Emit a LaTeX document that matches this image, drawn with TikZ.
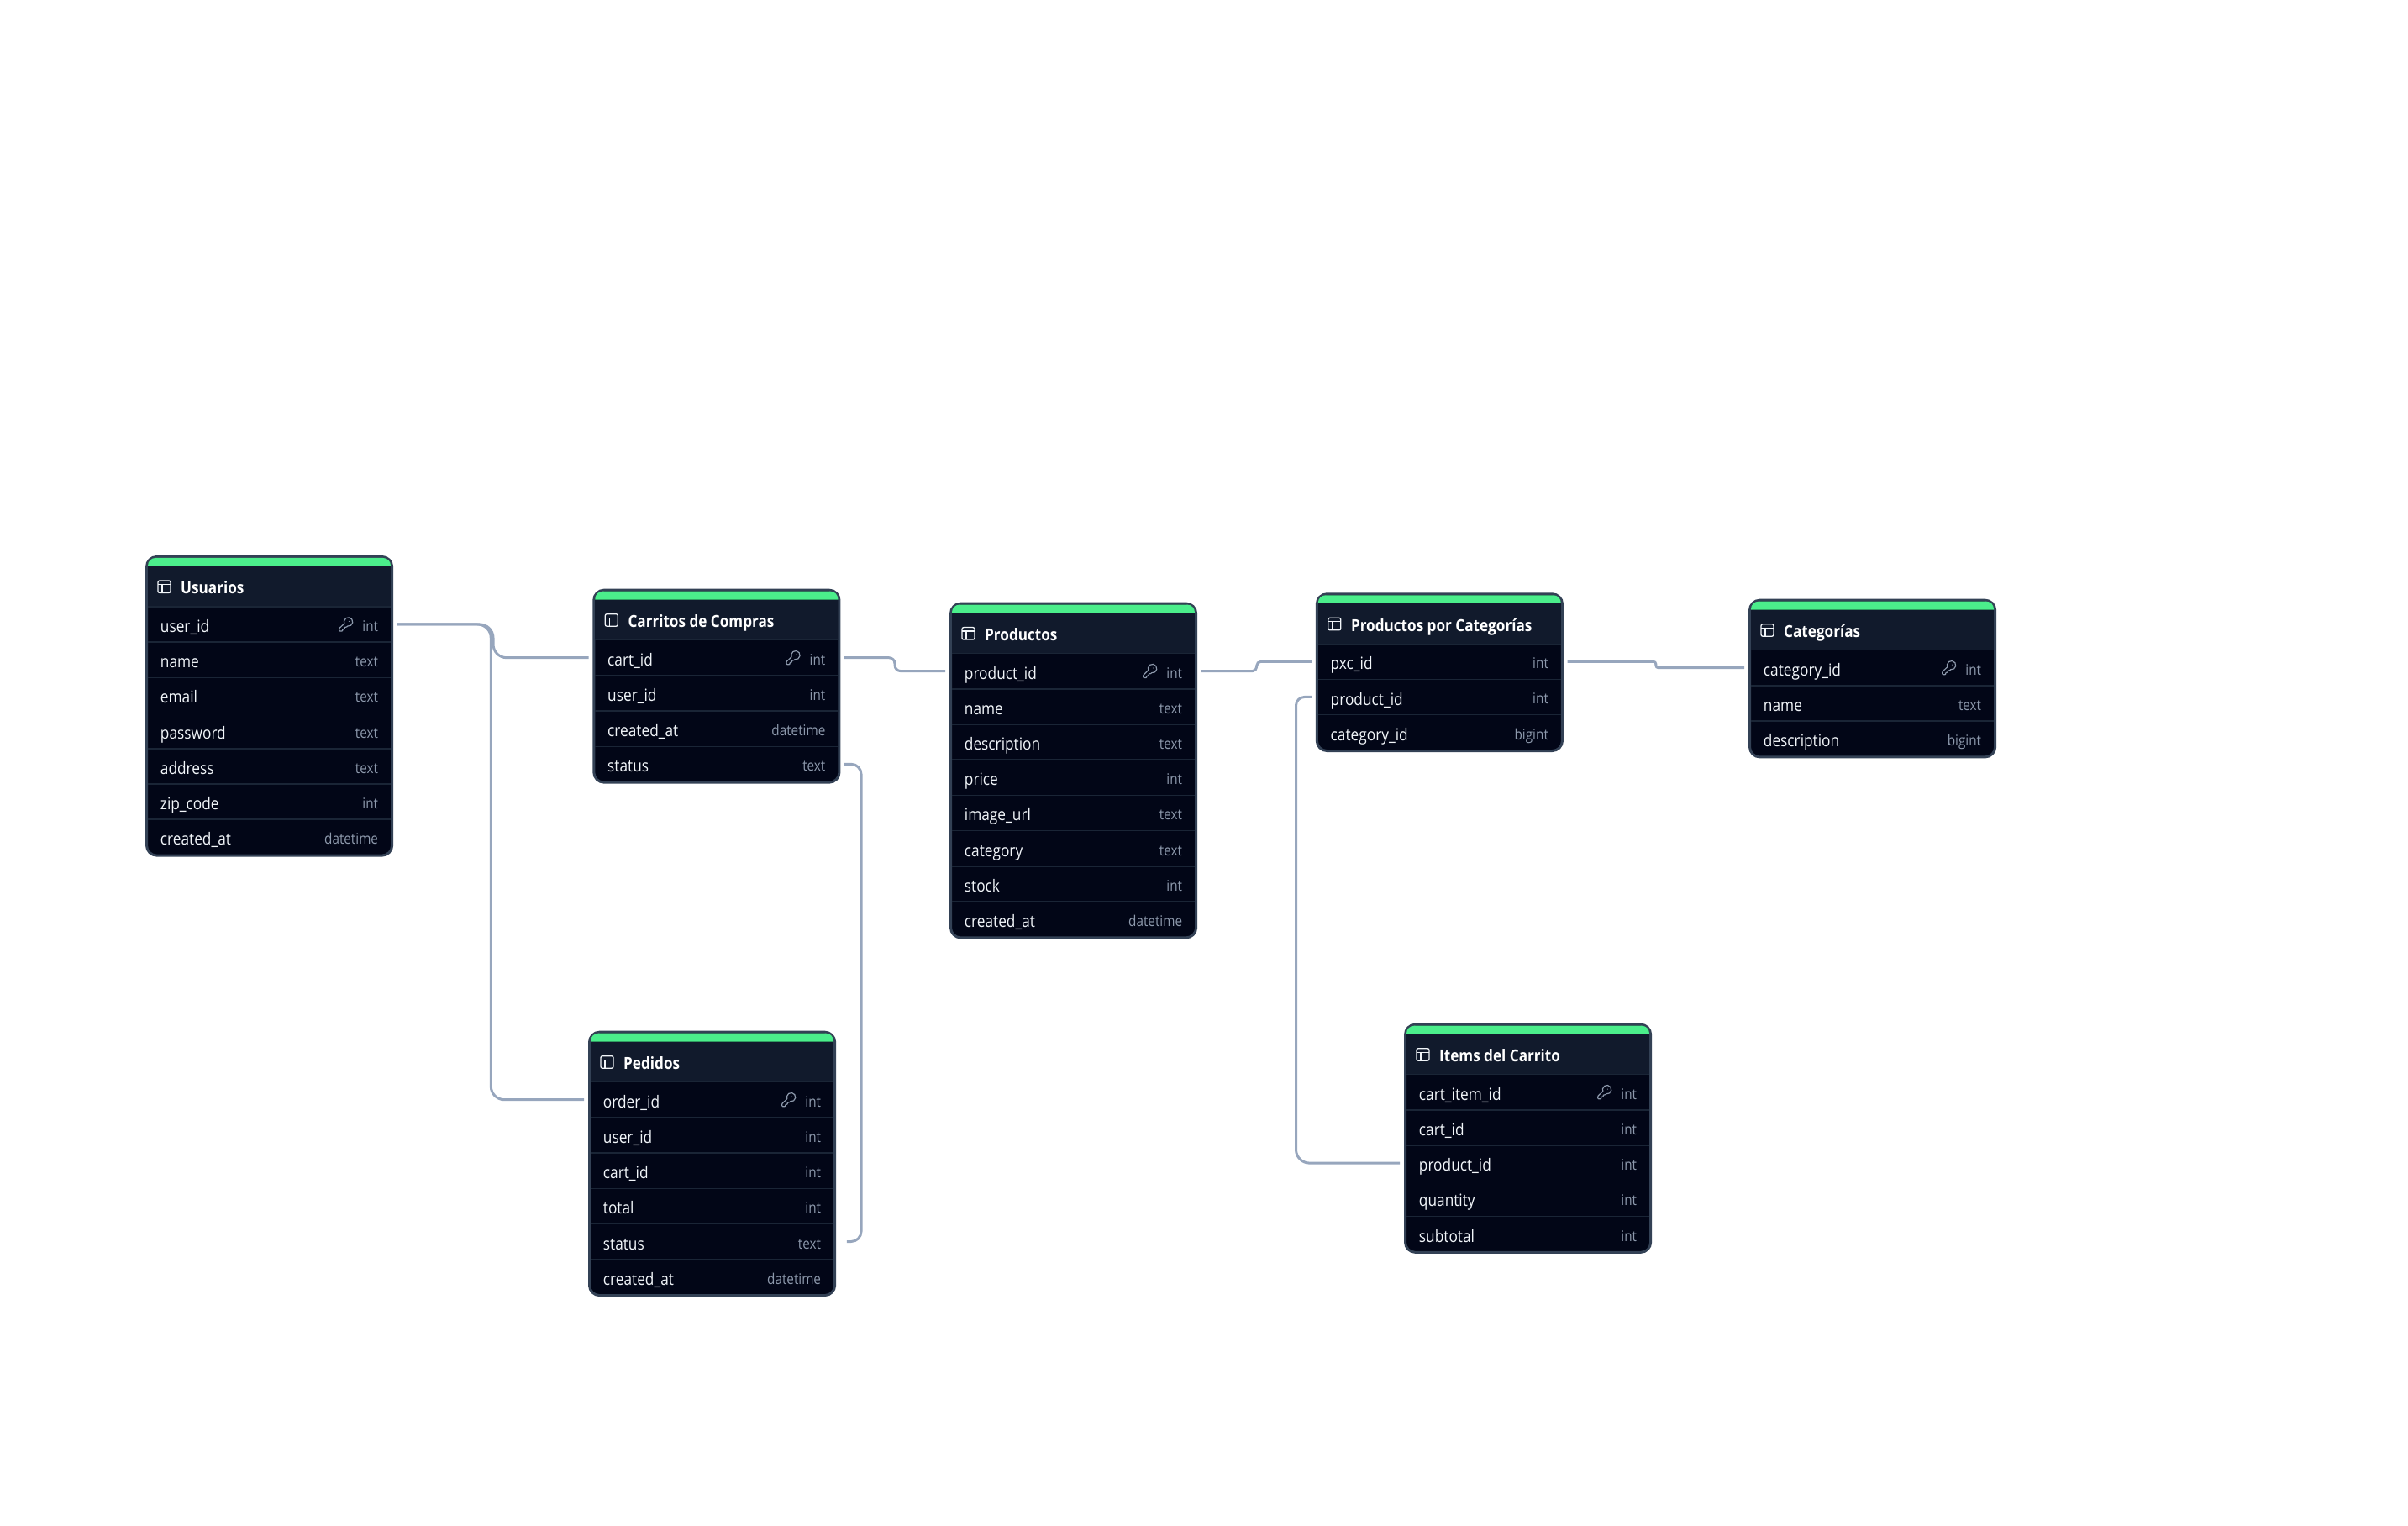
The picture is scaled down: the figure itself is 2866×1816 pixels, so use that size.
\documentclass[tikz,border=0pt]{standalone}
\usepackage{fontspec}
\setmainfont[FakeStretch=0.87]{Open Sans}
\definecolor{barcol}{HTML}{4BEE8B}
\definecolor{headcol}{HTML}{111A2C}
\definecolor{rowcol}{HTML}{020617}
\definecolor{framecol}{HTML}{334155}
\definecolor{divcol}{HTML}{1A2536}
\definecolor{linkcol}{HTML}{97A6BD}
\definecolor{namecol}{HTML}{F1F5F9}
\definecolor{typecol}{HTML}{8D99AC}
\tikzset{
  tablebox/.style={draw=framecol,fill=rowcol,line width=0.03cm,rounded corners=0.12cm,anchor=north west,minimum width=2.92cm},
  tabletitle/.style={anchor=base west,inner sep=0pt,text=white,font=\fontsize{5.6}{7}\selectfont\bfseries},
  colrow/.style={minimum height=0.42cm,inner ysep=0pt,inner xsep=0.22cm,text width=2.59cm,align=left,text height=0.23cm,text depth=0.04cm,text=namecol,font=\fontsize{5.65}{7}\selectfont},
  coltype/.style={anchor=east,inner ysep=0pt,inner xsep=0.22cm,text height=0.21cm,text depth=0.04cm,text=typecol,font=\fontsize{5}{7}\selectfont},
  rowline/.style={draw=divcol,line width=0.015cm},
  link/.style={draw=linkcol,line width=0.03cm},
  tablehead/.pic={
    \fill[barcol] (3,13) [rounded corners=0.09cm] -- (3,3) -- (292,3) [sharp corners] -- (292,13) -- cycle;
    \fill[headcol] (3,13) rectangle (292,61);
    \draw[rowline] (3,61) -- (292,61);
    \draw[draw=namecol,line width=0.013cm,rounded corners=0.02cm] (15,30) rectangle (30,44.5);
    \draw[draw=namecol,line width=0.013cm] (15,34.5) -- (30,34.5) (20,34.5) -- (20,44.5);
  },
  keyicon/.pic={
    \draw[x=0.008cm,y=0.008cm,shift={(-12,12)},draw=typecol,line width=0.012cm,line join=round]
      (14.4,-14.6) arc (259.8:562.4:6.5) -- (2.6,-17.4) -- (2,-18.8) -- (2,-21) -- (3,-22) -- (6,-22) -- (7,-21) -- (7,-20)
      -- (8,-19) -- (9,-19) -- (10,-18) -- (10,-17) -- (11,-16) -- (12.2,-16) -- (13.6,-15.4) -- cycle;
    \fill[x=0.008cm,y=0.008cm,shift={(-12,12)},typecol] (16.5,-7.5) circle (0.7);
  }
}
\begin{document}
\begin{tikzpicture}[x=0.01cm,y=-0.01cm]
\useasboundingbox (0,0) rectangle (2866,1816);

% Usuarios
\begin{scope}[shift={(173,661)}]
\node[tablebox,minimum height=3.554cm] (usuarios) at (0,0) {};
\pic at (0,0) {tablehead};
\node[tabletitle] (usuariost) at (41.5,46) {Usuarios};
\draw[rowline] (3,103.2) -- (292,103.2);
\draw[rowline] (3,145.4) -- (292,145.4);
\draw[rowline] (3,187.6) -- (292,187.6);
\draw[rowline] (3,229.8) -- (292,229.8);
\draw[rowline] (3,272) -- (292,272);
\draw[rowline] (3,314.2) -- (292,314.2);
\node[colrow] (u1) at (147.5,82) {user\_id};
\node[colrow] (u2) at (147.5,124.2) {name};
\node[colrow] (u3) at (147.5,166.4) {email};
\node[colrow] (u4) at (147.5,208.6) {password};
\node[colrow] (u5) at (147.5,250.8) {address};
\node[colrow] (u6) at (147.5,293) {zip\_code};
\node[colrow] (u7) at (147.5,335.2) {created\_at};
\node[coltype] (u1t) at (u1.east) {int};
\node[coltype] (u2t) at (u2.east) {text};
\node[coltype] (u3t) at (u3.east) {text};
\node[coltype] (u4t) at (u4.east) {text};
\node[coltype] (u5t) at (u5.east) {text};
\node[coltype] (u6t) at (u6.east) {int};
\node[coltype] (u7t) at (u7.east) {datetime};
\pic at ([xshift=-0.61cm]u1.east) {keyicon};
\end{scope}

% Carritos de Compras
\begin{scope}[shift={(705.3,700.7)}]
\node[tablebox,minimum height=2.288cm] (carritos) at (0,0) {};
\pic at (0,0) {tablehead};
\node[tabletitle] (carritost) at (41.5,46) {Carritos de Compras};
\draw[rowline] (3,103.2) -- (292,103.2);
\draw[rowline] (3,145.4) -- (292,145.4);
\draw[rowline] (3,187.6) -- (292,187.6);
\node[colrow] (c1) at (147.5,82) {cart\_id};
\node[colrow] (c2) at (147.5,124.2) {user\_id};
\node[colrow] (c3) at (147.5,166.4) {created\_at};
\node[colrow] (c4) at (147.5,208.6) {status};
\node[coltype] (c1t) at (c1.east) {int};
\node[coltype] (c2t) at (c2.east) {int};
\node[coltype] (c3t) at (c3.east) {datetime};
\node[coltype] (c4t) at (c4.east) {text};
\pic at ([xshift=-0.61cm]c1.east) {keyicon};
\end{scope}

% Pedidos
\begin{scope}[shift={(700,1226.7)}]
\node[tablebox,minimum height=3.132cm] (pedidos) at (0,0) {};
\pic at (0,0) {tablehead};
\node[tabletitle] (pedidost) at (41.5,46) {Pedidos};
\draw[rowline] (3,103.2) -- (292,103.2);
\draw[rowline] (3,145.4) -- (292,145.4);
\draw[rowline] (3,187.6) -- (292,187.6);
\draw[rowline] (3,229.8) -- (292,229.8);
\draw[rowline] (3,272) -- (292,272);
\node[colrow] (pe1) at (147.5,82) {order\_id};
\node[colrow] (pe2) at (147.5,124.2) {user\_id};
\node[colrow] (pe3) at (147.5,166.4) {cart\_id};
\node[colrow] (pe4) at (147.5,208.6) {total};
\node[colrow] (pe5) at (147.5,250.8) {status};
\node[colrow] (pe6) at (147.5,293) {created\_at};
\node[coltype] (pe1t) at (pe1.east) {int};
\node[coltype] (pe2t) at (pe2.east) {int};
\node[coltype] (pe3t) at (pe3.east) {int};
\node[coltype] (pe4t) at (pe4.east) {int};
\node[coltype] (pe5t) at (pe5.east) {text};
\node[coltype] (pe6t) at (pe6.east) {datetime};
\pic at ([xshift=-0.61cm]pe1.east) {keyicon};
\end{scope}

% Productos
\begin{scope}[shift={(1130,716.6)}]
\node[tablebox,minimum height=3.976cm] (productos) at (0,0) {};
\pic at (0,0) {tablehead};
\node[tabletitle] (productost) at (41.5,46) {Productos};
\draw[rowline] (3,103.2) -- (292,103.2);
\draw[rowline] (3,145.4) -- (292,145.4);
\draw[rowline] (3,187.6) -- (292,187.6);
\draw[rowline] (3,229.8) -- (292,229.8);
\draw[rowline] (3,272) -- (292,272);
\draw[rowline] (3,314.2) -- (292,314.2);
\draw[rowline] (3,356.4) -- (292,356.4);
\node[colrow] (pr1) at (147.5,82) {product\_id};
\node[colrow] (pr2) at (147.5,124.2) {name};
\node[colrow] (pr3) at (147.5,166.4) {description};
\node[colrow] (pr4) at (147.5,208.6) {price};
\node[colrow] (pr5) at (147.5,250.8) {image\_url};
\node[colrow] (pr6) at (147.5,293) {category};
\node[colrow] (pr7) at (147.5,335.2) {stock};
\node[colrow] (pr8) at (147.5,377.4) {created\_at};
\node[coltype] (pr1t) at (pr1.east) {int};
\node[coltype] (pr2t) at (pr2.east) {text};
\node[coltype] (pr3t) at (pr3.east) {text};
\node[coltype] (pr4t) at (pr4.east) {int};
\node[coltype] (pr5t) at (pr5.east) {text};
\node[coltype] (pr6t) at (pr6.east) {text};
\node[coltype] (pr7t) at (pr7.east) {int};
\node[coltype] (pr8t) at (pr8.east) {datetime};
\pic at ([xshift=-0.61cm]pr1.east) {keyicon};
\end{scope}

% Productos por Categorias
\begin{scope}[shift={(1565.8,705.3)}]
\node[tablebox,minimum height=1.866cm] (porcat) at (0,0) {};
\pic at (0,0) {tablehead};
\node[tabletitle] (porcatt) at (41.5,46) {Productos por Categorías};
\draw[rowline] (3,103.2) -- (292,103.2);
\draw[rowline] (3,145.4) -- (292,145.4);
\node[colrow] (pc1) at (147.5,82) {pxc\_id};
\node[colrow] (pc2) at (147.5,124.2) {product\_id};
\node[colrow] (pc3) at (147.5,166.4) {category\_id};
\node[coltype] (pc1t) at (pc1.east) {int};
\node[coltype] (pc2t) at (pc2.east) {int};
\node[coltype] (pc3t) at (pc3.east) {bigint};
\end{scope}

% Categorias
\begin{scope}[shift={(2081,712.7)}]
\node[tablebox,minimum height=1.866cm] (categorias) at (0,0) {};
\pic at (0,0) {tablehead};
\node[tabletitle] (categoriast) at (41.5,46) {Categorías};
\draw[rowline] (3,103.2) -- (292,103.2);
\draw[rowline] (3,145.4) -- (292,145.4);
\node[colrow] (ca1) at (147.5,82) {category\_id};
\node[colrow] (ca2) at (147.5,124.2) {name};
\node[colrow] (ca3) at (147.5,166.4) {description};
\node[coltype] (ca1t) at (ca1.east) {int};
\node[coltype] (ca2t) at (ca2.east) {text};
\node[coltype] (ca3t) at (ca3.east) {bigint};
\pic at ([xshift=-0.61cm]ca1.east) {keyicon};
\end{scope}

% Items del Carrito
\begin{scope}[shift={(1671,1217.7)}]
\node[tablebox,minimum height=2.71cm] (items) at (0,0) {};
\pic at (0,0) {tablehead};
\node[tabletitle] (itemst) at (41.5,46) {Items del Carrito};
\draw[rowline] (3,103.2) -- (292,103.2);
\draw[rowline] (3,145.4) -- (292,145.4);
\draw[rowline] (3,187.6) -- (292,187.6);
\draw[rowline] (3,229.8) -- (292,229.8);
\node[colrow] (i1) at (147.5,82) {cart\_item\_id};
\node[colrow] (i2) at (147.5,124.2) {cart\_id};
\node[colrow] (i3) at (147.5,166.4) {product\_id};
\node[colrow] (i4) at (147.5,208.6) {quantity};
\node[colrow] (i5) at (147.5,250.8) {subtotal};
\node[coltype] (i1t) at (i1.east) {int};
\node[coltype] (i2t) at (i2.east) {int};
\node[coltype] (i3t) at (i3.east) {int};
\node[coltype] (i4t) at (i4.east) {int};
\node[coltype] (i5t) at (i5.east) {int};
\pic at ([xshift=-0.61cm]i1.east) {keyicon};
\end{scope}

% connectors
\coordinate (pe5end) at ([xshift=0.08cm]pe5.east);
\draw[link,rounded corners=0.16cm] (u1.east) -- (587,0 |- u1.east) -- (587,0 |- c1.west) -- (c1.west);
\draw[link,rounded corners=0.16cm] (u1.east) -- (584.3,0 |- u1.east) -- (584.3,0 |- pe1.west) -- (pe1.west);
\draw[link,rounded corners=0.07cm] (c1.east) -- (1065,0 |- c1.east) -- (1065,0 |- pr1.west) -- (pr1.west);
\draw[link,rounded corners=0.12cm] (c4.east) -- (1025,0 |- c4.east) -- (1025,0 |- pe5end) -- (pe5end);
\draw[link,rounded corners=0.05cm] (pr1.east) -- (1495.7,0 |- pr1.east) -- (1495.7,0 |- pc1.west) -- (pc1.west);
\draw[link,rounded corners=0.03cm] (pc1.east) -- (1970.8,0 |- pc1.east) -- (1970.8,0 |- ca1.west) -- (ca1.west);
\draw[link,rounded corners=0.1cm] (pc2.west) -- (1542.5,0 |- pc2.west) [rounded corners=0.16cm] -- (1542.5,0 |- i3.west) -- (i3.west);
\end{tikzpicture}
\end{document}
